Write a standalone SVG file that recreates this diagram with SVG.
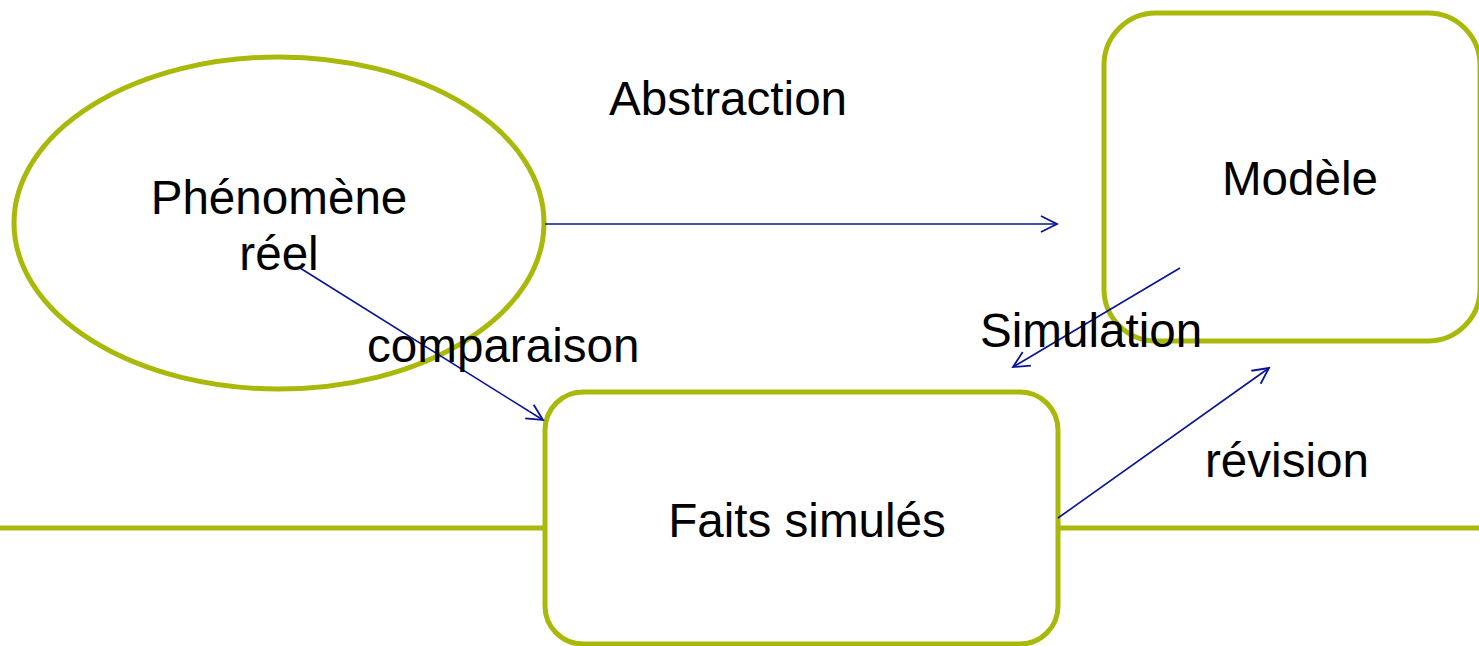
<svg xmlns="http://www.w3.org/2000/svg" width="1479" height="646" viewBox="0 0 1479 646">
<style>
.shape{fill:none;stroke:#A9B90A;stroke-width:5}
.conn{stroke:#0A1496;stroke-width:1.6;fill:none}
text{font-family:"Liberation Sans",Arial,sans-serif;font-size:47.6px;fill:#000}
</style>
<defs>
<marker id="arr" viewBox="0 0 20 20" refX="18" refY="10" markerWidth="20" markerHeight="20" markerUnits="userSpaceOnUse" orient="auto">
<path d="M2,2 L18,10 L2,18" fill="none" stroke="#0A1496" stroke-width="1.8"/>
</marker>
</defs>
<line class="shape" x1="0" y1="528" x2="1479" y2="528"/>
<g id="phenomene">
<ellipse class="shape" cx="279" cy="223" rx="265" ry="166" fill="#fff"/>
<text x="279" y="214" text-anchor="middle">Phénomène</text>
<text x="279" y="270" text-anchor="middle">réel</text>
</g>
<g id="modele">
<rect class="shape" x="1104" y="13" width="376" height="328" rx="52" ry="52" style="fill:#fff"/>
<text x="1300" y="195" text-anchor="middle">Modèle</text>
</g>
<g id="faits">
<rect class="shape" x="545" y="392" width="513" height="252" rx="38" ry="38" style="fill:#fff"/>
<text x="807" y="537" text-anchor="middle">Faits simulés</text>
</g>
<g id="connectors">
<line class="conn" x1="545" y1="224" x2="1057" y2="224" marker-end="url(#arr)"/>
<line class="conn" x1="1180" y1="268" x2="1013" y2="367" marker-end="url(#arr)"/>
<line class="conn" x1="300" y1="268" x2="543" y2="420" marker-end="url(#arr)"/>
<line class="conn" x1="1058" y1="518" x2="1269" y2="368" marker-end="url(#arr)"/>
</g>
<g id="labels">
<text x="609" y="115">Abstraction</text>
<text x="367" y="362">comparaison</text>
<text x="980" y="347">Simulation</text>
<text x="1205" y="477">révision</text>
</g>
</svg>
